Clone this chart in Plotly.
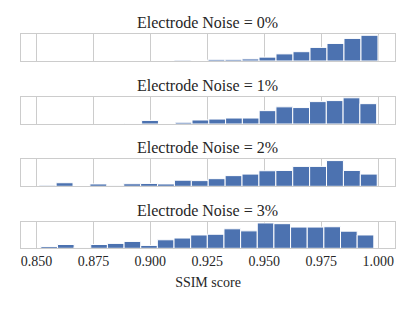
import plotly.graph_objects as go

# ---- data (histogram bins) ----
noise_labels = ["Electrode Noise = 0%", "Electrode Noise = 1%",
                "Electrode Noise = 2%", "Electrode Noise = 3%"]

bin_start_0 = 0.9104
bin_width_0 = 0.00746
counts_0 = [0.8, 0, 1.6, 1.6, 2.0, 3.7, 6.8, 8.9, 13.0, 16.8, 21.6, 24.6]

bin_start_1 = 0.8888
bin_width_1 = 0.00737
counts_1 = [0.5, 3.5, 0, 1.7, 3.9, 4.8, 5.8, 5.8, 13.0, 16.7, 16.0, 21.8, 22.8, 25.5, 19.8]

bin_start_2 = 0.8512
bin_width_2 = 0.00742
counts_2 = [1.0, 3.5, 0, 2.3, 0.6, 2.5, 2.8, 2.3, 6.0, 5.6, 7.5, 10.5, 12.0, 15.3,
            15.6, 19.6, 19.6, 25.3, 15.6, 12.0]

bin_start_3 = 0.8519
bin_width_3 = 0.00731
counts_3 = [1.7, 3.7, 0.8, 3.7, 4.8, 6.7, 2.8, 8.3, 10.0, 13.0, 13.7, 19.0, 17.0,
            24.7, 24.0, 20.7, 20.7, 21.0, 16.7, 13.0]

tick_vals = [0.850, 0.875, 0.900, 0.925, 0.950, 0.975, 1.000]
x_label = "SSIM score"

panels = [
    (bin_start_0, bin_width_0, counts_0),
    (bin_start_1, bin_width_1, counts_1),
    (bin_start_2, bin_width_2, counts_2),
    (bin_start_3, bin_width_3, counts_3),
]

# ---- layout geometry ----
W, H = 415, 311
FONT = "Liberation Serif"
TEXT = "#262626"
GRID = "#cccccc"
BAR = "#4c72b0"
panel_px = [(34, 61), (96.5, 124), (159.3, 186.3), (221.7, 248.3)]
x_dom = [21 / W, 395 / W]
x_range = [0.8432, 1.0074]

fig = go.Figure()
layout = dict(
    width=W, height=H,
    margin=dict(l=0, r=0, t=0, b=0, pad=0),
    paper_bgcolor="white", plot_bgcolor="white",
    showlegend=False,
    font=dict(family=FONT, color=TEXT, size=14),
    annotations=[],
)

for i, (start, width, counts) in enumerate(panels):
    n = i + 1
    xa = "x" if n == 1 else f"x{n}"
    ya = "y" if n == 1 else f"y{n}"
    centers = [start + width * (k + 0.5) for k in range(len(counts))]
    fig.add_trace(go.Bar(
        x=centers, y=counts, width=[width] * len(counts),
        marker=dict(color=BAR, line=dict(color="white", width=1)),
        xaxis=xa, yaxis=ya, hoverinfo="skip",
    ))
    top, bot = panel_px[i]
    y_dom = [1 - bot / H, 1 - top / H]
    last = (n == 4)
    layout["xaxis" if n == 1 else f"xaxis{n}"] = dict(
        domain=x_dom, range=x_range, anchor=ya, automargin=False,
        tickvals=tick_vals, tickformat=".3f",
        showticklabels=last, ticks="",
        showgrid=True, gridcolor=GRID, gridwidth=1,
        showline=True, linecolor=GRID, linewidth=1.3, mirror=True,
        zeroline=False,
        tickfont=dict(family=FONT, size=14, color=TEXT),
        title=dict(text=x_label if last else "", font=dict(family=FONT, size=14, color=TEXT), standoff=8),
    )
    layout["yaxis" if n == 1 else f"yaxis{n}"] = dict(
        domain=y_dom, range=[0, max(counts) * 1.05], anchor=xa, automargin=False,
        showticklabels=False, ticks="", showgrid=False, zeroline=False,
        showline=True, linecolor=GRID, linewidth=1.3, mirror=True,
    )
    layout["annotations"].append(dict(
        text=noise_labels[i], xref="paper", yref="paper",
        x=(x_dom[0] + x_dom[1]) / 2, y=y_dom[1], xanchor="center", yanchor="bottom",
        yshift=1, showarrow=False, font=dict(family=FONT, size=16, color=TEXT),
    ))

fig.update_layout(**layout)
fig.write_html("out.html", config={"displayModeBar": False},
               post_script="document.body.style.margin='0';")
